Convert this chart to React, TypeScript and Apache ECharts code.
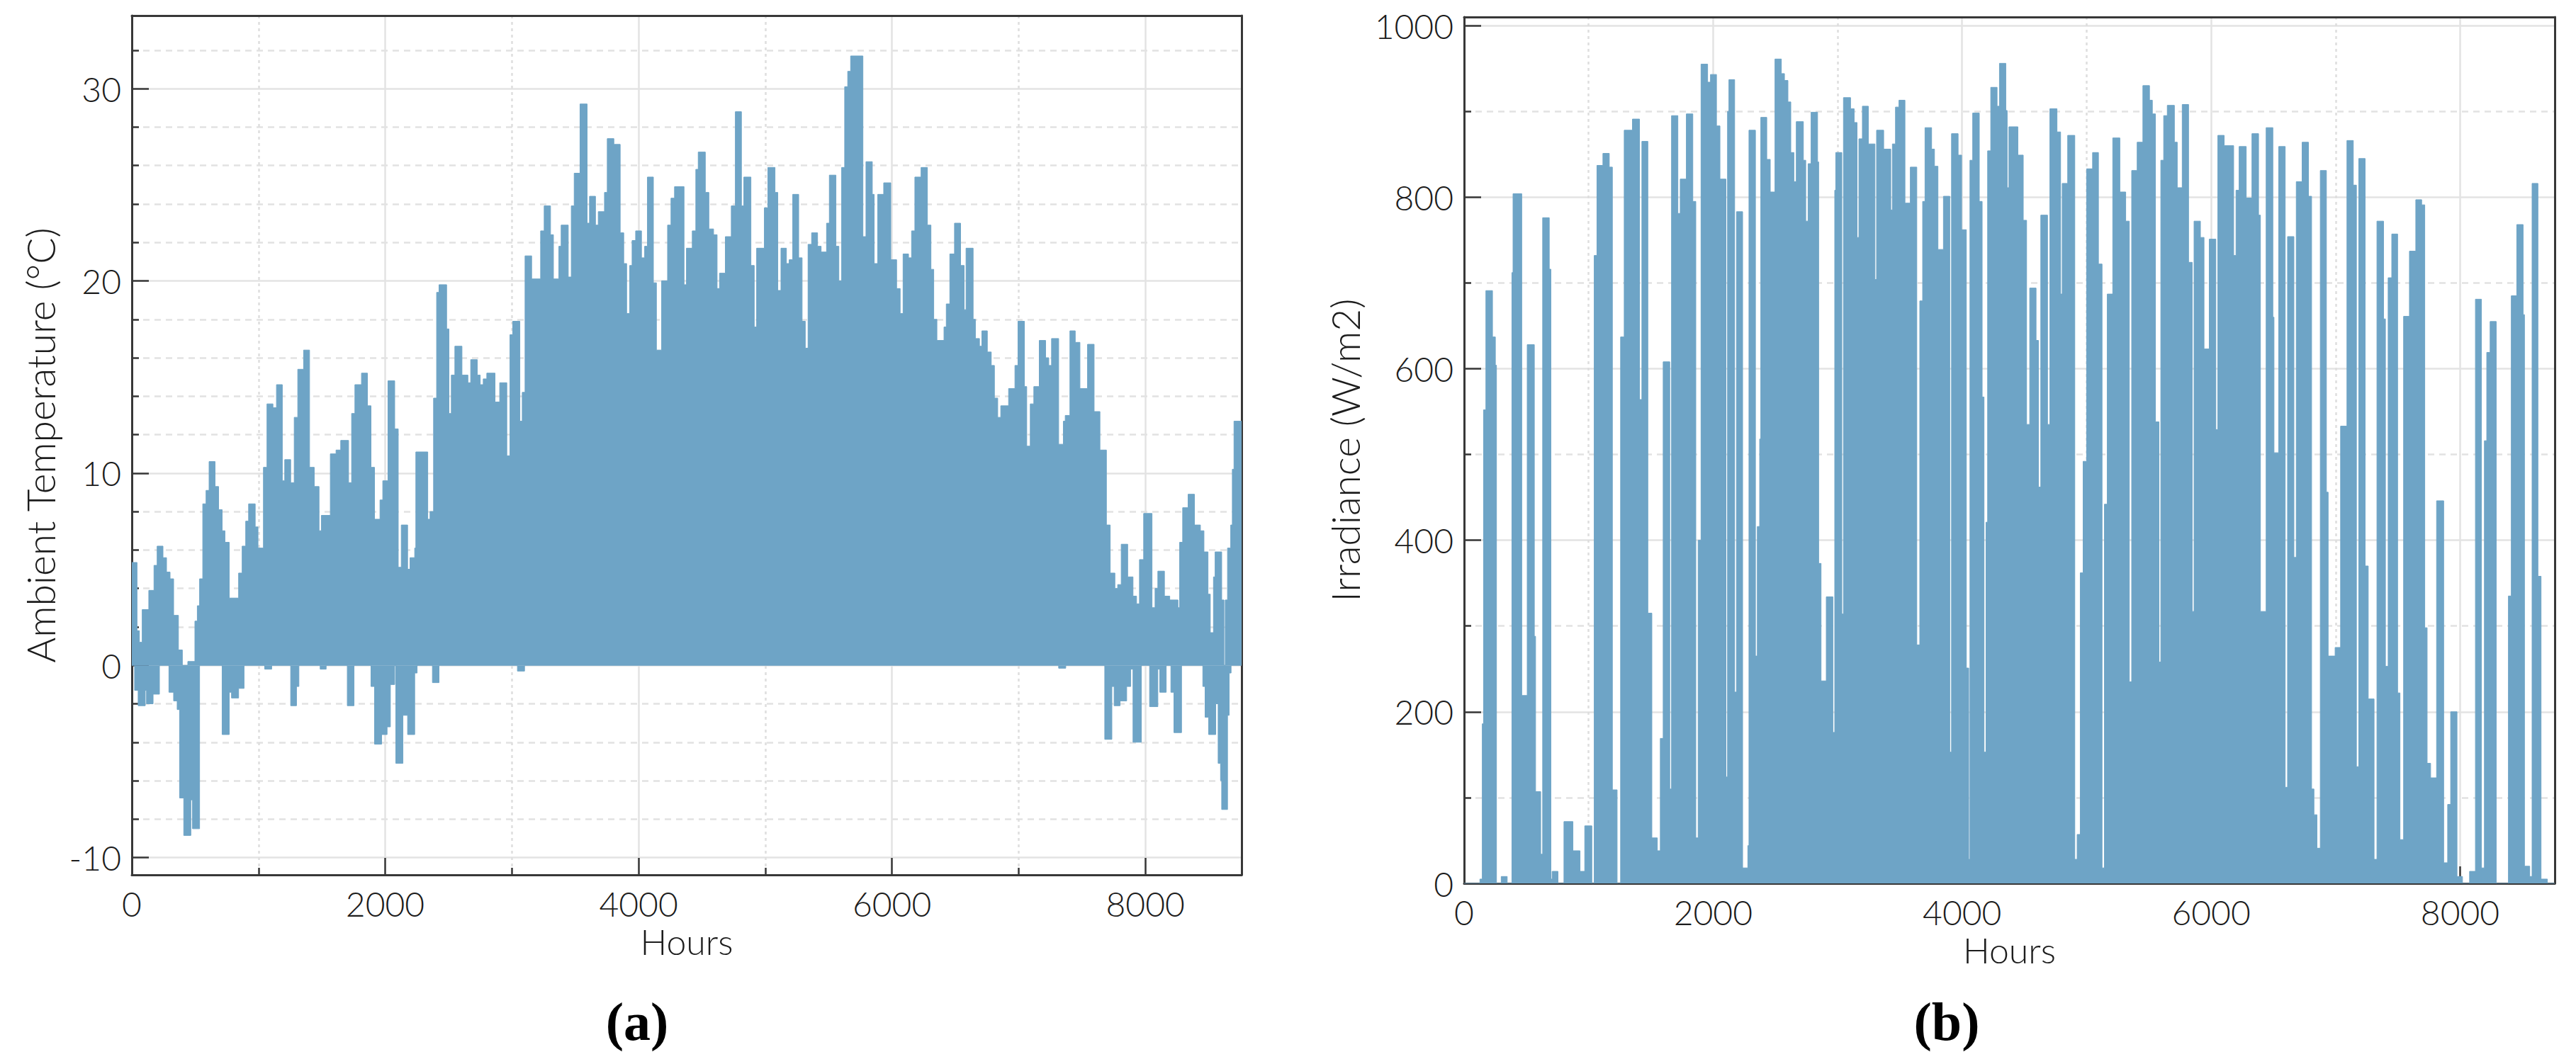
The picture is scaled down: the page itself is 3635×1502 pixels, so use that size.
import React, { useEffect, useRef } from "react";
import * as echarts from "echarts";

// ---------- DATA ----------
// Ambient temperature: upper envelope, [hour where level starts, °C]
const tempHigh: [number, number][] = [
  [0, 5.35], [41, 1.8], [60, 1.2], [82, 2.9], [134, 3.9], [175, 5.2], [200, 6.2], [246, 5.6], [274, 4.85], [302, 4.5],
  [330, 2.6], [368, 0.8], [399, 0], [442, 0.2], [498, 2.3], [517, 3.1], [535, 4.5], [560, 8.4], [586, 9.1], [610, 10.6],
  [657, 9.3], [685, 8.1], [713, 7.0], [735, 6.4], [769, 3.5], [843, 4.8], [871, 6.2], [899, 7.5], [922, 8.4], [974, 7.2],
  [996, 6.1], [1039, 10.3], [1067, 13.6], [1114, 13.4], [1142, 14.6], [1188, 9.6], [1207, 10.7], [1254, 9.5], [1282, 12.9], [1310, 15.4],
  [1356, 16.4], [1403, 10.3], [1440, 9.3], [1478, 7.0], [1496, 7.8], [1567, 11.0], [1612, 11.2], [1649, 11.7], [1711, 9.5], [1735, 13.1],
  [1761, 14.6], [1813, 15.2], [1860, 13.5], [1888, 10.3], [1916, 7.6], [1959, 8.6], [1981, 9.6], [2022, 14.8], [2075, 12.3], [2103, 5.1],
  [2127, 7.3], [2177, 5.0], [2196, 5.6], [2233, 6.1], [2242, 11.1], [2336, 7.6], [2354, 8.0], [2382, 13.9], [2406, 19.4], [2425, 19.8],
  [2485, 17.5], [2503, 13.1], [2522, 15.1], [2550, 16.6], [2606, 15.1], [2653, 14.7], [2675, 15.9], [2727, 15.1], [2750, 14.6], [2774, 14.9],
  [2802, 15.2], [2867, 13.7], [2904, 14.7], [2960, 10.9], [2985, 17.2], [3007, 17.9], [3063, 12.7], [3082, 14.2], [3104, 21.3], [3156, 20.1],
  [3227, 22.6], [3255, 23.9], [3305, 22.4], [3328, 20.1], [3371, 21.8], [3389, 22.9], [3445, 20.2], [3469, 23.9], [3492, 25.6], [3538, 29.2],
  [3594, 23.0], [3613, 24.4], [3660, 22.9], [3682, 23.6], [3731, 24.6], [3753, 27.4], [3805, 27.1], [3855, 22.5], [3883, 20.9], [3906, 18.3],
  [3930, 20.8], [3949, 22.1], [3977, 22.6], [4023, 21.2], [4048, 21.8], [4070, 25.4], [4117, 19.9], [4141, 16.4], [4182, 20.0], [4229, 22.9],
  [4256, 24.3], [4284, 24.9], [4359, 19.8], [4378, 21.7], [4424, 22.6], [4452, 25.8], [4471, 26.7], [4527, 24.6], [4555, 22.7], [4592, 22.4],
  [4620, 19.6], [4639, 20.4], [4685, 22.3], [4732, 23.9], [4764, 28.8], [4812, 23.9], [4831, 25.4], [4887, 20.8], [4913, 17.6], [4932, 21.7],
  [4993, 23.8], [5021, 25.9], [5077, 24.6], [5099, 19.5], [5124, 21.7], [5167, 20.9], [5189, 21.1], [5217, 24.5], [5264, 21.2], [5291, 17.9],
  [5316, 16.5], [5338, 21.9], [5366, 22.5], [5413, 21.8], [5441, 21.5], [5484, 23.0], [5506, 25.5], [5558, 21.8], [5581, 20.0], [5603, 25.9],
  [5627, 30.1], [5651, 30.9], [5674, 31.7], [5771, 22.3], [5795, 26.2], [5845, 24.5], [5860, 20.9], [5888, 24.5], [5935, 25.1], [5991, 21.1],
  [6037, 19.6], [6065, 18.3], [6088, 21.4], [6131, 21.2], [6155, 22.6], [6181, 25.4], [6230, 25.9], [6280, 22.9], [6308, 20.6], [6330, 18.0],
  [6355, 16.9], [6411, 17.6], [6429, 18.8], [6457, 21.4], [6494, 23.0], [6542, 20.8], [6570, 18.5], [6585, 21.7], [6641, 18.0], [6659, 17.0],
  [6691, 16.6], [6710, 17.4], [6753, 16.3], [6784, 15.6], [6809, 13.9], [6835, 12.9], [6859, 13.5], [6921, 14.4], [6971, 15.6], [6995, 17.9],
  [7046, 14.5], [7064, 11.4], [7092, 13.6], [7120, 14.5], [7163, 16.9], [7213, 16.0], [7238, 15.6], [7260, 17.0], [7316, 11.5], [7353, 12.7],
  [7368, 13.0], [7405, 17.4], [7447, 16.8], [7484, 14.4], [7544, 16.7], [7596, 13.2], [7642, 11.2], [7693, 7.3], [7723, 4.8], [7760, 4.0],
  [7782, 4.2], [7810, 6.3], [7861, 4.6], [7903, 3.6], [7931, 3.2], [7954, 5.5], [7987, 7.9], [8053, 3.0], [8077, 4.0], [8099, 4.9],
  [8151, 3.6], [8193, 3.4], [8258, 3.0], [8271, 6.4], [8295, 8.2], [8338, 8.9], [8388, 7.3], [8435, 7.0], [8463, 5.9], [8495, 3.7],
  [8513, 1.7], [8538, 4.6], [8551, 5.9], [8603, 3.4], [8621, 0], [8631, 3.4], [8649, 6.1], [8674, 7.3], [8687, 10.2], [8700, 12.7],
  [8760, 12.7],
];

// Ambient temperature: lower envelope (negative part), [hour, °C]
const tempLow: [number, number][] = [
  [0, 0], [22, -1.3], [50, -2.1], [106, -1.3], [116, -2.0], [168, -1.5], [218, 0], [293, -1.4], [330, -1.85], [358, -2.3],
  [377, -6.9], [410, -8.85], [466, -7.0], [479, -8.5], [535, 0], [713, -3.6], [769, -1.4], [787, -1.7], [843, -1.2], [886, 0],
  [1049, -0.2], [1104, 0], [1254, -2.1], [1300, -1.1], [1319, 0], [1487, -0.2], [1534, 0], [1701, -2.1], [1754, 0], [1888, -1.1],
  [1916, -4.1], [1972, -3.6], [2015, -3.2], [2041, -1.0], [2075, 0], [2084, -5.1], [2140, -2.6], [2177, -3.6], [2233, -0.4], [2252, 0],
  [2373, -0.9], [2425, 0], [3044, -0.3], [3100, 0], [7316, -0.15], [7372, 0], [7680, -3.85], [7736, -1.1], [7754, -2.1], [7801, -1.85],
  [7853, -1.1], [7885, -0.2], [7903, -4.0], [7969, 0], [8034, -2.15], [8099, -0.2], [8114, -1.4], [8165, 0], [8202, -1.4], [8226, -3.5],
  [8286, 0], [8454, -1.1], [8472, -2.7], [8500, -3.6], [8556, -2.0], [8575, -5.1], [8594, -6.0], [8603, -7.5], [8649, -2.6], [8662, -0.4],
  [8677, 0], [8760, 0],
];

// Irradiance: upper envelope, [hour, W/m2]
const irradiance: [number, number][] = [
  [0, 0], [127, 5], [146, 186], [156, 552], [175, 691], [228, 637], [251, 604], [260, 0], [298, 8], [346, 0],
  [384, 712], [393, 804], [463, 219], [507, 628], [564, 288], [574, 107], [615, 34], [631, 776], [684, 716], [697, 5],
  [707, 14], [754, 0], [802, 72], [874, 38], [931, 14], [969, 67], [1026, 0], [1045, 732], [1067, 837], [1115, 851],
  [1166, 835], [1191, 109], [1229, 0], [1257, 637], [1286, 878], [1352, 891], [1409, 564], [1428, 865], [1476, 315], [1508, 53],
  [1552, 38], [1576, 169], [1599, 608], [1652, 110], [1666, 895], [1717, 781], [1736, 821], [1785, 897], [1837, 795], [1861, 53],
  [1880, 400], [1903, 955], [1956, 934], [1979, 943], [2027, 883], [2055, 821], [2103, 124], [2116, 900], [2127, 937], [2173, 223],
  [2188, 783], [2237, 18], [2279, 44], [2288, 878], [2340, 265], [2355, 416], [2374, 518], [2383, 893], [2431, 844], [2459, 806],
  [2497, 961], [2548, 944], [2573, 936], [2601, 911], [2624, 852], [2649, 818], [2668, 888], [2725, 843], [2744, 772], [2763, 839],
  [2787, 899], [2839, 841], [2848, 373], [2867, 236], [2909, 334], [2962, 176], [2977, 808], [2985, 852], [3034, 314], [3047, 916],
  [3104, 903], [3133, 887], [3156, 753], [3171, 868], [3199, 906], [3247, 862], [3300, 704], [3313, 878], [3370, 856], [3427, 785],
  [3440, 862], [3465, 905], [3493, 913], [3541, 793], [3584, 835], [3636, 278], [3660, 679], [3683, 795], [3702, 881], [3755, 856],
  [3778, 836], [3806, 739], [3850, 801], [3901, 153], [3915, 874], [3968, 849], [3996, 762], [4034, 251], [4053, 28], [4063, 843],
  [4085, 898], [4138, 795], [4161, 567], [4176, 153], [4192, 421], [4205, 854], [4230, 928], [4281, 906], [4300, 956], [4351, 901],
  [4362, 811], [4376, 882], [4448, 849], [4491, 773], [4518, 535], [4543, 694], [4594, 633], [4613, 462], [4632, 779], [4686, 535],
  [4705, 903], [4762, 876], [4791, 687], [4804, 816], [4848, 872], [4905, 28], [4924, 57], [4949, 362], [4972, 492], [5000, 833],
  [5048, 852], [5095, 722], [5124, 18], [5143, 442], [5166, 687], [5210, 869], [5267, 806], [5314, 772], [5343, 235], [5362, 831],
  [5406, 864], [5452, 930], [5505, 913], [5528, 897], [5553, 538], [5581, 258], [5596, 843], [5619, 895], [5648, 907], [5705, 864],
  [5728, 811], [5768, 908], [5819, 724], [5848, 317], [5863, 772], [5914, 753], [5943, 623], [5985, 751], [6038, 529], [6054, 872],
  [6105, 860], [6181, 732], [6200, 808], [6225, 859], [6282, 799], [6328, 874], [6381, 779], [6396, 317], [6442, 881], [6496, 660],
  [6505, 502], [6543, 859], [6595, 112], [6614, 754], [6665, 380], [6684, 818], [6731, 864], [6782, 801], [6807, 110], [6826, 80],
  [6850, 41], [6877, 831], [6926, 456], [6940, 265], [6996, 275], [7040, 533], [7091, 866], [7142, 814], [7167, 136], [7186, 845],
  [7237, 370], [7262, 215], [7309, 28], [7332, 772], [7385, 658], [7400, 253], [7422, 706], [7451, 757], [7498, 222], [7517, 51],
  [7546, 661], [7593, 737], [7644, 797], [7691, 791], [7716, 298], [7735, 140], [7763, 123], [7811, 446], [7868, 24], [7900, 92],
  [7924, 200], [7975, 8], [8019, 0], [8076, 14], [8123, 681], [8171, 18], [8195, 516], [8214, 619], [8241, 655], [8290, 0],
  [8388, 335], [8411, 685], [8455, 768], [8506, 663], [8517, 20], [8559, 8], [8578, 816], [8625, 358], [8650, 5], [8701, 0],
  [8760, 0],
];

// Tick values
const hourMajorTicks = [0, 2000, 4000, 6000, 8000];
const hourMinorTicks = [1000, 3000, 5000, 7000];
const tempMajorTicks = [-10, 0, 10, 20, 30];
const tempMinorTicks = [-8, -6, -4, -2, 2, 4, 6, 8, 12, 14, 16, 18, 22, 24, 26, 28, 32];
const irrMajorTicks = [0, 200, 400, 600, 800, 1000];
const irrMinorTicks = [100, 300, 500, 700, 900];

// ---------- STYLE ----------
const FILL = "#6ea4c6";
const AXIS = "#383838";
const TEXT = "#1c1c1c";
const FONT = "Lato, 'Open Sans', 'DejaVu Sans', sans-serif";
const plain = (v: number) => String(v);
const tickText = { fontSize: 48, color: TEXT, fontFamily: FONT, fontWeight: 300, formatter: plain };
const xNameText = { fontSize: 50, color: TEXT, fontFamily: FONT, fontWeight: 300 };
const yNameText = { fontSize: 55, color: TEXT, fontFamily: FONT, fontWeight: 300 };

function xAxesFor(gridIndex: number, max: number, name: string, nameGap: number) {
  return [
    {
      type: "value", gridIndex, min: 0, max, position: "bottom",
      name, nameLocation: "middle", nameGap, nameTextStyle: xNameText,
      axisLine: { show: true, onZero: false, lineStyle: { color: AXIS, width: 3 } },
      axisTick: { show: true, inside: true, length: 24, customValues: hourMajorTicks, lineStyle: { color: AXIS, width: 2.5 } },
      axisLabel: { show: true, customValues: hourMajorTicks, margin: 16, ...tickText },
      splitLine: { show: true, lineStyle: { color: "#e3e3e3", width: 2.5 } },
    },
    {
      type: "value", gridIndex, min: 0, max, position: "bottom",
      axisLine: { show: false, onZero: false },
      axisTick: { show: true, inside: true, length: 10, customValues: hourMinorTicks, lineStyle: { color: AXIS, width: 2.5 } },
      axisLabel: { show: false },
      splitLine: { show: true, lineStyle: { color: "#dedede", width: 2.5, type: [4, 5] } },
    },
    {
      type: "value", gridIndex, min: 0, max, position: "top",
      axisLine: { show: true, onZero: false, lineStyle: { color: AXIS, width: 3 } },
      axisTick: { show: false }, axisLabel: { show: false }, splitLine: { show: false },
    },
  ];
}

function yAxesFor(gridIndex: number, min: number, max: number, major: number[], minor: number[], name: string, nameGap: number) {
  return [
    {
      type: "value", gridIndex, min, max, position: "left",
      name, nameLocation: "middle", nameGap, nameTextStyle: yNameText,
      axisLine: { show: true, onZero: false, lineStyle: { color: AXIS, width: 3 } },
      axisTick: { show: true, inside: true, length: 24, customValues: major, lineStyle: { color: AXIS, width: 2.5 } },
      axisLabel: { show: true, customValues: major, margin: 15, ...tickText },
      splitLine: { show: true, lineStyle: { color: "#e3e3e3", width: 2.5 } },
    },
    {
      type: "value", gridIndex, min, max, position: "left",
      axisLine: { show: false, onZero: false },
      axisTick: { show: true, inside: true, length: 10, customValues: minor, lineStyle: { color: AXIS, width: 2.5 } },
      axisLabel: { show: false },
      splitLine: { show: true, lineStyle: { color: "#e2e2e2", width: 2.5, type: [9, 7] } },
    },
    {
      type: "value", gridIndex, min, max, position: "right",
      axisLine: { show: true, onZero: false, lineStyle: { color: AXIS, width: 3 } },
      axisTick: { show: false }, axisLabel: { show: false }, splitLine: { show: false },
    },
  ];
}

function stepArea(data: [number, number][], xAxisIndex: number, yAxisIndex: number) {
  return {
    type: "line", xAxisIndex, yAxisIndex, data, step: "end",
    symbol: "none", showSymbol: false, silent: true,
    lineStyle: { color: FILL, width: 1 },
    areaStyle: { color: FILL, opacity: 1 },
    z: 2,
  };
}

const option: any = {
  animation: false,
  backgroundColor: "#ffffff",
  grid: [
    { left: 186, top: 22, width: 1566, height: 1213, outerBoundsMode: "none" },
    { left: 2066, top: 24, width: 1539, height: 1223, outerBoundsMode: "none" },
  ],
  xAxis: [...xAxesFor(0, 8760, "Hours", 68), ...xAxesFor(1, 8760, "Hours", 66)],
  yAxis: [
    ...yAxesFor(0, -10.9, 33.8, tempMajorTicks, tempMinorTicks, "Ambient Temperature (°C)", 102),
    ...yAxesFor(1, 0, 1010, irrMajorTicks, irrMinorTicks, "Irradiance (W/m2)", 141),
  ],
  series: [
    stepArea(tempHigh, 0, 0),
    stepArea(tempLow, 0, 0),
    stepArea(irradiance, 3, 3),
  ],
  graphic: [
    {
      type: "text", x: 899, y: 1442,
      style: { text: "(a)", fill: "#000", fontSize: 76, fontWeight: "bold", fontFamily: "'Liberation Serif', 'DejaVu Serif', serif", align: "center", verticalAlign: "middle" },
    },
    {
      type: "text", x: 2747, y: 1442,
      style: { text: "(b)", fill: "#000", fontSize: 76, fontWeight: "bold", fontFamily: "'Liberation Serif', 'DejaVu Serif', serif", align: "center", verticalAlign: "middle" },
    },
  ],
};

export default function App() {
  const ref = useRef<HTMLDivElement>(null);
  useEffect(() => {
    if (!ref.current) return;
    const chart = echarts.init(ref.current, null, { renderer: "svg" });
    chart.setOption(option);
    return () => chart.dispose();
  }, []);
  return (
    <div
      ref={ref}
      style={{ position: "absolute", left: 0, top: 0, width: 3635, height: 1502, background: "#fff" }}
    />
  );
}
